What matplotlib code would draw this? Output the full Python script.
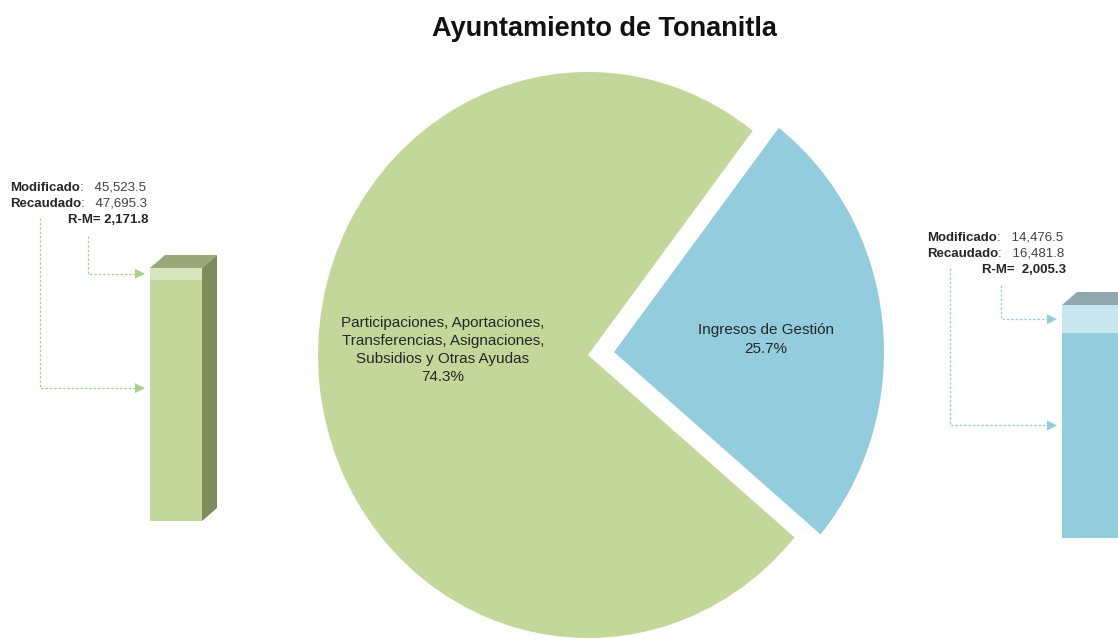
import matplotlib.pyplot as plt
from matplotlib.patches import Polygon

plt.rcParams['font.family'] = ['Liberation Sans', 'DejaVu Sans']

# data
categories = ['Participaciones, Aportaciones,\nTransferencias, Asignaciones,\nSubsidios y Otras Ayudas',
              'Ingresos de Gestión']
shares = [74.3, 25.7]
modificado = [45523.5, 14476.5]
recaudado = [47695.3, 16481.8]
diferencia = [2171.8, 2005.3]

W, H = 1118, 639
fig = plt.figure(figsize=(W / 100, H / 100), dpi=100)


def fx(x):
    return x / W


def fy(y):
    return 1 - y / H


# title
fig.text(fx(604), fy(29), 'Ayuntamiento de Tonanitla', ha='center', va='center',
         fontsize=19.5, fontweight='bold', color='#111111')

# pie (circle centre ~ (588, 355), rx 270 px, ry 283 px)
pie_green = '#c4d79b'
pie_blue = '#93cddd'
ax = fig.add_axes([fx(588 - 270), fy(355 + 283), 540 / W, 566 / H])
wedges, _ = ax.pie(shares, colors=[pie_green, pie_blue], startangle=52.4,
                   explode=[0, 0.097], radius=1, wedgeprops=dict(linewidth=0))
ax.set_aspect('auto')
ax.set_xlim(-1, 1)
ax.set_ylim(-1, 1)
ax.axis('off')

ax.text(-0.537, 0.018, categories[0] + '\n' + f'{shares[0]:.1f}%', ha='center', va='center',
        fontsize=11, color='#262626', linespacing=1.38)
ax.text(0.659, 0.055, categories[1] + '\n' + f'{shares[1]:.1f}%', ha='center', va='center',
        fontsize=11, color='#262626', linespacing=1.38)

# 3D-looking bars: (front left px, front right px, top px, bottom px)
bars = [
    dict(box=(150, 202, 268, 521), front=pie_green, light='#d8e4bd', side='#7e8b5a', top='#99a879',
         line='#a9d18e', txt_x=10, txt_y=186, rm_x=148, rm_sep=' ', arrows=((40, 218), (88, 236))),
    dict(box=(1062, 1122, 305, 538), front=pie_blue, light='#c8e6ee', side='#5f8b97', top='#91a7ae',
         line='#92cddc', txt_x=927, txt_y=236, rm_x=1066, rm_sep='  ', arrows=((950, 268), (1001, 285))),
]
dx_px, dy_px = 15, 13

for i, b in enumerate(bars):
    x0, x1, yt, yb = b['box']
    bax = fig.add_axes([fx(x0), fy(yb), (x1 - x0) / W, (yb - yt) / H])
    bax.set_xlim(0, 1)
    bax.set_ylim(0, recaudado[i])
    bax.axis('off')
    bax.bar(0, modificado[i], width=1, align='edge', color=b['front'], linewidth=0)
    bax.bar(0, diferencia[i], bottom=modificado[i], width=1, align='edge', color=b['light'], linewidth=0)
    ddx = dx_px / (x1 - x0)
    ddy = dy_px / (yb - yt) * recaudado[i]
    top = recaudado[i]
    bax.add_patch(Polygon([(1, 0), (1 + ddx, ddy), (1 + ddx, top + ddy), (1, top)],
                          closed=True, color=b['side'], clip_on=False, linewidth=0))
    bax.add_patch(Polygon([(0, top), (ddx, top + ddy), (1 + ddx, top + ddy), (1, top)],
                          closed=True, color=b['top'], clip_on=False, linewidth=0))

    # labels
    tx, ty = b['txt_x'], b['txt_y']
    for k, (name, val) in enumerate([('Modificado', modificado[i]), ('Recaudado', recaudado[i])]):
        t = fig.text(fx(tx), fy(ty + 5 + 16 * k), name, fontsize=9.5, fontweight='bold',
                     color='#262626', va='baseline')
        fig.add_artist(plt.Annotation(f':   {val:,.1f}', xy=(1, 0), xycoords=t, va='bottom',
                                      ha='left', fontsize=9.5, color='#404040'))
    fig.text(fx(b['rm_x']), fy(ty + 5 + 32), f'R-M={b["rm_sep"]}{diferencia[i]:,.1f}', fontsize=9.5,
             fontweight='bold', color='#262626', va='baseline', ha='right')

    # connectors
    (lx, ly), (ux, uy) = b['arrows']
    targets = [(lx, ly, modificado[i] * 0.55), (ux, uy, modificado[i] + diferencia[i] / 2)]
    for sx, sy, val in targets:
        end = bax.transData.transform((0, val))
        ex = end[0] - 7
        ey_fig = fig.transFigure.inverted().transform(end)[1]
        fig.add_artist(plt.Line2D([fx(sx), fx(sx), ex / W], [fy(sy), ey_fig, ey_fig],
                                  transform=fig.transFigure, color=b['line'], linewidth=0.9,
                                  linestyle=(0, (2, 1.5))))
        fig.add_artist(Polygon([(ex / W - 8 / W, ey_fig + 5 / H), (ex / W - 8 / W, ey_fig - 5 / H),
                                (ex / W + 2 / W, ey_fig)], closed=True, transform=fig.transFigure,
                               color=b['line'], linewidth=0))

fig.savefig('out.png', dpi=100)
